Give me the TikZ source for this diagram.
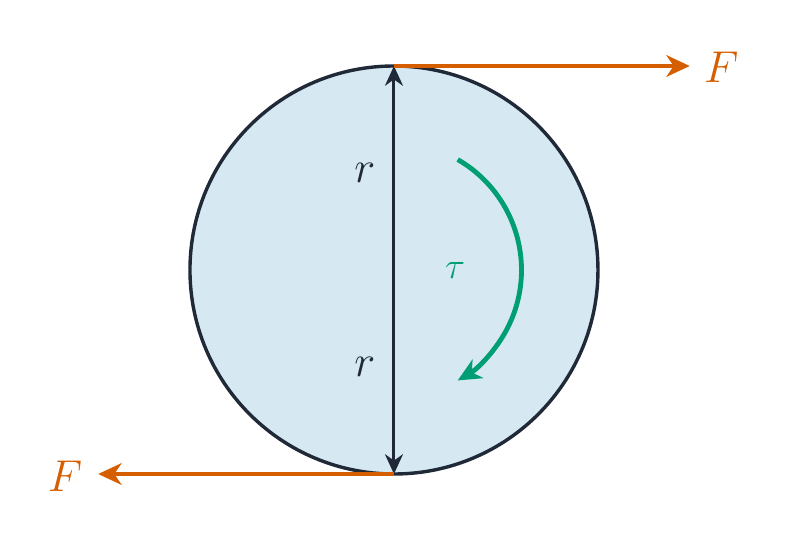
\documentclass[tikz,border=0pt]{standalone}
\usetikzlibrary{arrows.meta}
\definecolor{wheelfill}{HTML}{D6E8F2}
\definecolor{wheeledge}{HTML}{1F2937}
\definecolor{forcecol}{HTML}{D55E00}
\definecolor{torquecol}{HTML}{009E73}
\tikzset{
  force/.style={draw=forcecol, line width=2.7pt, -{Stealth[length=13pt,width=12pt,inset=4pt]}},
  radius line/.style={draw=wheeledge, line width=1.7pt, {Stealth[length=11pt,width=10pt,inset=3.5pt]}-{Stealth[length=11pt,width=10pt,inset=3.5pt]}},
  biglabel/.style={font=\fontsize{26}{30}\selectfont}
}
\begin{document}
\begin{tikzpicture}
                
                  \useasboundingbox (-7.725, -5.333) rectangle (7.765, 5.294);
                  \fill[wheelfill, draw=wheeledge, line width=1.9pt](0, 0) circle (4);
                  \coordinate (top) at (0, 4);
                  \coordinate (bottom) at (0, -4);
                  \coordinate (rightend) at (5.8, 4);
                  \coordinate (leftend) at (-5.8, -4);
                   \draw[radius line] (top) to (bottom);
                     \node[biglabel, text=wheeledge] (rtop) at (-0.57, 1.9){$r$};
                     \node[biglabel, text=wheeledge] (rbottom) at (-0.57, -1.9){$r$};
                   \draw[force] (top) to (rightend);
                     \node[biglabel, text=forcecol] (ftop) at (6.42, 3.98){$F$};
                   \draw[force] (bottom) to (leftend);
                     \node[biglabel, text=forcecol] (fbottom) at (-6.45, -4.05){$F$};
                   \draw[draw=torquecol, line width=2.7pt, -{Stealth[length=13pt,width=12pt,inset=4pt]}] (60:2.5) arc (60:-60:2.5);
                     \node[font=\fontsize{22}{26}\selectfont, text=torquecol] (tau) at (1.2, 0){$\tau$};
                
                \end{tikzpicture}
\end{document}
